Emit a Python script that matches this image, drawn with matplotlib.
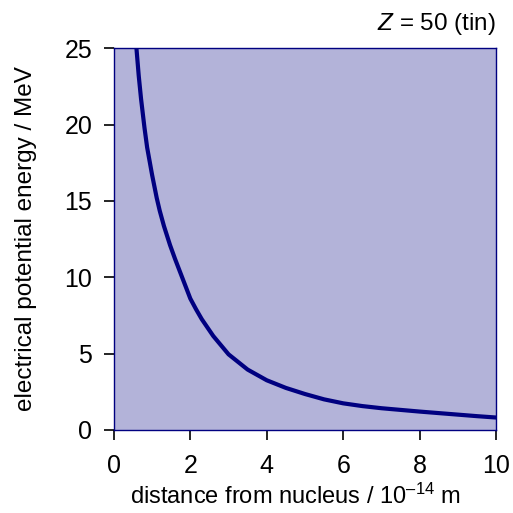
import matplotlib
matplotlib.use("Agg")
import matplotlib.pyplot as plt

# values (distance in 1e-14 m, energy in MeV)
distance = [0.57, 0.59, 0.65, 0.71, 0.80, 0.87, 1.0, 1.12, 1.2, 1.31, 1.47,
            1.6, 1.8, 2.0, 2.15, 2.3, 2.6, 3.0, 3.5, 4.0, 4.5, 5.0, 5.5,
            6.0, 6.5, 7.0, 7.5, 8.0, 8.5, 9.0, 9.5, 10.0]
energy = [26.0, 25.0, 23.2, 21.7, 19.8, 18.5, 16.7, 15.2, 14.35, 13.35, 12.1,
          11.2, 9.9, 8.6, 7.9, 7.25, 6.15, 4.95, 3.95, 3.25, 2.75, 2.35, 2.0,
          1.74, 1.56, 1.42, 1.31, 1.20, 1.10, 1.0, 0.9, 0.81]

x_ticks = [0, 2, 4, 6, 8, 10]
y_ticks = [0, 5, 10, 15, 20, 25]

navy = "#000080"
face = "#b3b3d9"

plt.rcParams["font.family"] = ["Liberation Sans", "DejaVu Sans"]
plt.rcParams["mathtext.fontset"] = "custom"
plt.rcParams["mathtext.rm"] = "Liberation Sans"
plt.rcParams["mathtext.it"] = "Liberation Sans:italic"

fig = plt.figure(figsize=(5.13, 5.13), dpi=100)
ax = fig.add_axes([0.222, 0.162, 0.745, 0.744])
ax.set_facecolor(face)

ax.plot(distance, energy, color=navy, lw=3.0, solid_joinstyle="round")

ax.set_xlim(0, 10)
ax.set_ylim(0, 25)
ax.set_xticks(x_ticks)
ax.set_yticks(y_ticks)
ax.tick_params(direction="out", length=7.5, width=1.2, color="black",
               labelsize=18)
ax.tick_params(axis="x", pad=10)
ax.tick_params(axis="y", pad=8)

for s in ax.spines.values():
    s.set_color(navy)
    s.set_linewidth(1.0)

ax.set_xlabel("distance from nucleus / 10$^{\u201314}$ m", fontsize=17)
ax.xaxis.set_label_coords(0.475, -0.14)
ax.set_ylabel("electrical potential energy / MeV", fontsize=17.5, labelpad=20)

ax.text(1.0, 1.03, "$Z$ = 50 (tin)", transform=ax.transAxes,
        ha="right", va="bottom", fontsize=17.5)

fig.savefig("out.png", dpi=100)
